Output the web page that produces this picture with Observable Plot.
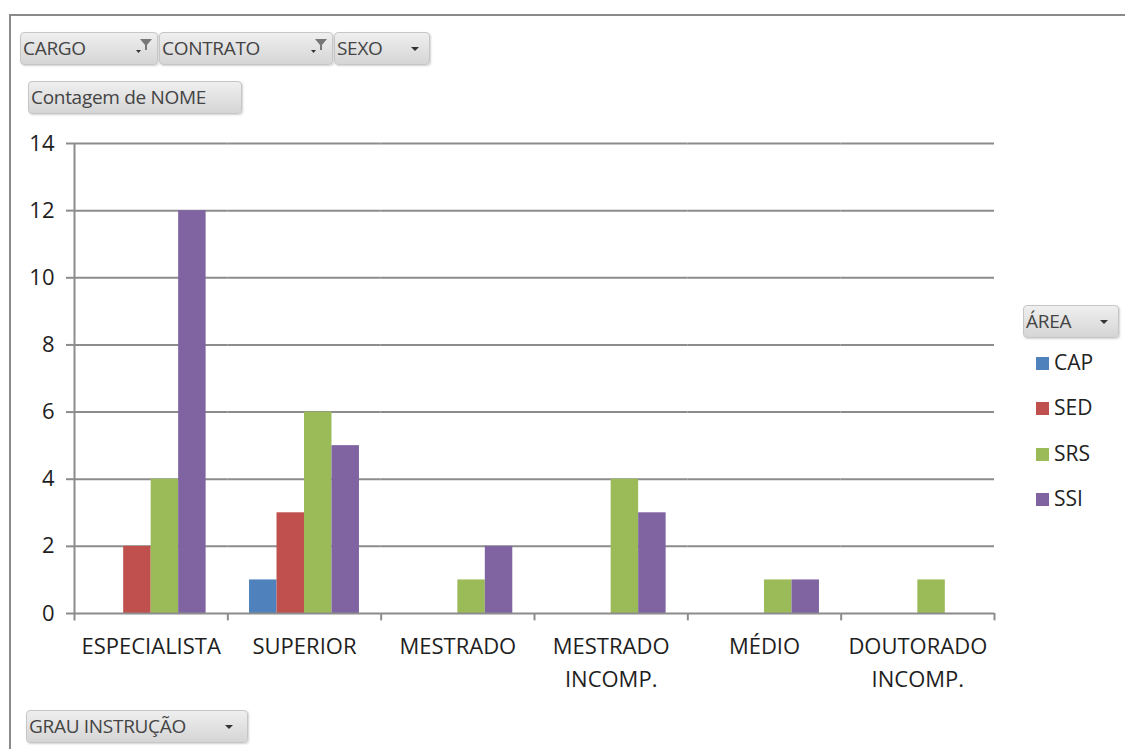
<!DOCTYPE html>
<html><head><meta charset="utf-8">
<script src="https://cdn.jsdelivr.net/npm/d3@7"></script>
<script src="https://cdn.jsdelivr.net/npm/@observablehq/plot@0.6"></script>
<style>
body{margin:0;background:#fff;font-family:"Open Sans",sans-serif;}
#wrap{position:relative;width:1125px;height:749px;overflow:hidden;background:#fff}
#chart{position:absolute;left:0;top:0}
.frame{position:absolute;left:9px;top:14px;right:-5px;bottom:-5px;border-left:2px solid #8a8a8a;border-top:2px solid #8a8a8a}
.btn{position:absolute;box-sizing:border-box;height:33px;border:1px solid #c6c6c6;border-radius:4px;background:linear-gradient(#efefef,#d5d5d5);box-shadow:1px 1px 2px rgba(0,0,0,.18);font-size:19px;color:#444;line-height:31px;padding-left:2px;white-space:nowrap;letter-spacing:-0.3px}
.btn svg{position:absolute;top:0}
.leg{position:absolute;left:1036px;font-size:21px;color:#222;line-height:26px}
.leg i{display:inline-block;width:13px;height:13px;margin-right:5px;vertical-align:0px}
</style></head>
<body><div id="wrap"><div class="frame"></div><div id="chart"></div></div>
<script>
const categories = ["ESPECIALISTA","SUPERIOR","MESTRADO","MESTRADO\nINCOMP.","MÉDIO","DOUTORADO\nINCOMP."];
const series = ["CAP","SED","SRS","SSI"];
const CAP = [0,1,0,0,0,0];
const SED = [2,3,0,0,0,0];
const SRS = [4,6,1,4,1,1];
const SSI = [12,5,2,3,1,0];
const colors = ["#4F81BD","#C0504D","#9BBB59","#8064A2"];
const yTicks = [0,2,4,6,8,10,12,14];
const filterButtons = ["CARGO","CONTRATO","SEXO"];
const valueButton = "Contagem de NOME";
const axisButton = "GRAU INSTRUÇÃO";
const legendTitle = "ÁREA";

const values = {CAP, SED, SRS, SSI};
const data = [];
categories.forEach((c, i) => series.forEach(s => { if (values[s][i] > 0) data.push({cat: c, s, v: values[s][i]}); }));

const W = 1125, H = 749, mL = 74, mR = 131, mT = 143, mB = 136;
const PO = 0.79;
const facetW = (W - mL - mR) / categories.length;
const step = facetW / (series.length + 2 * PO);
const off = (PO + 0.5) * step;
const grid = "#8c8c8c";

const chart = Plot.plot({
  width: W, height: H, marginLeft: mL, marginRight: mR, marginTop: mT, marginBottom: mB,
  style: {fontFamily: "Open Sans", fontSize: "22px", color: "#1e1e1e", background: "transparent"},
  fx: {domain: categories, padding: 0, round: false, axis: null, label: null},
  x: {domain: series, paddingInner: 0, paddingOuter: PO, round: false, axis: null},
  y: {domain: [0, 14], axis: null, label: null},
  color: {domain: series, range: colors},
  marks: [
    Plot.ruleY(yTicks.filter(d => d > 0), {stroke: grid, strokeWidth: 2}),
    Plot.barY(data, {fx: "cat", x: "s", y: "v", fill: "s", inset: 0}),
    Plot.ruleY([0], {stroke: grid, strokeWidth: 2}),
    Plot.ruleX(categories, {fx: d => d, x: () => "CAP", y1: d => d === categories[0] ? 14 : 0, y2: -0.22, dx: -off, stroke: grid, strokeWidth: 2}),
    Plot.ruleX([categories[categories.length - 1]], {fx: d => d, x: () => "SSI", y1: 0, y2: -0.22, dx: off, stroke: grid, strokeWidth: 2}),
    Plot.axisY({ticks: yTicks, tickSize: 8, tickPadding: 12, stroke: grid, strokeWidth: 2, fill: "#1e1e1e", fontSize: 22}),
    Plot.axisFx({anchor: "bottom", tickSize: 0, tickPadding: 17, lineHeight: 1.5, fontSize: 22, fill: "#1e1e1e"})
  ]
});
document.getElementById("chart").appendChild(chart);

const wrap = document.getElementById("wrap");
const tri = (x) => `<svg width="12" height="31" style="right:${x}px"><polygon points="2,14 10,14 6,18" fill="#333"/></svg>`;
const funnel = `<svg width="22" height="31" style="right:2px"><polygon points="7,6 19,6 14,12 14,17 12,17 12,12" fill="#777"/><polygon points="3,17 8,17 5.5,20" fill="#333"/></svg>`;
function btn(text, l, t, w, icon) {
  const d = document.createElement("div");
  d.className = "btn";
  d.style.left = l + "px"; d.style.top = t + "px"; d.style.width = w + "px";
  d.innerHTML = `<span>${text}</span>` + (icon || "");
  wrap.appendChild(d);
}
btn(filterButtons[0], 20, 32, 138, funnel);
btn(filterButtons[1], 159, 32, 174, funnel);
btn(filterButtons[2], 334, 32, 96, tri(8));
btn(valueButton, 28, 81, 214, "");
btn(axisButton, 26, 710, 222, tri(12));
btn(legendTitle, 1023, 305, 96, tri(8));
series.forEach((s, i) => {
  const d = document.createElement("div");
  d.className = "leg";
  d.style.top = (349 + i * 45.3) + "px";
  d.innerHTML = `<i style="background:${colors[i]}"></i>${s}`;
  wrap.appendChild(d);
});
</script>
</body></html>
